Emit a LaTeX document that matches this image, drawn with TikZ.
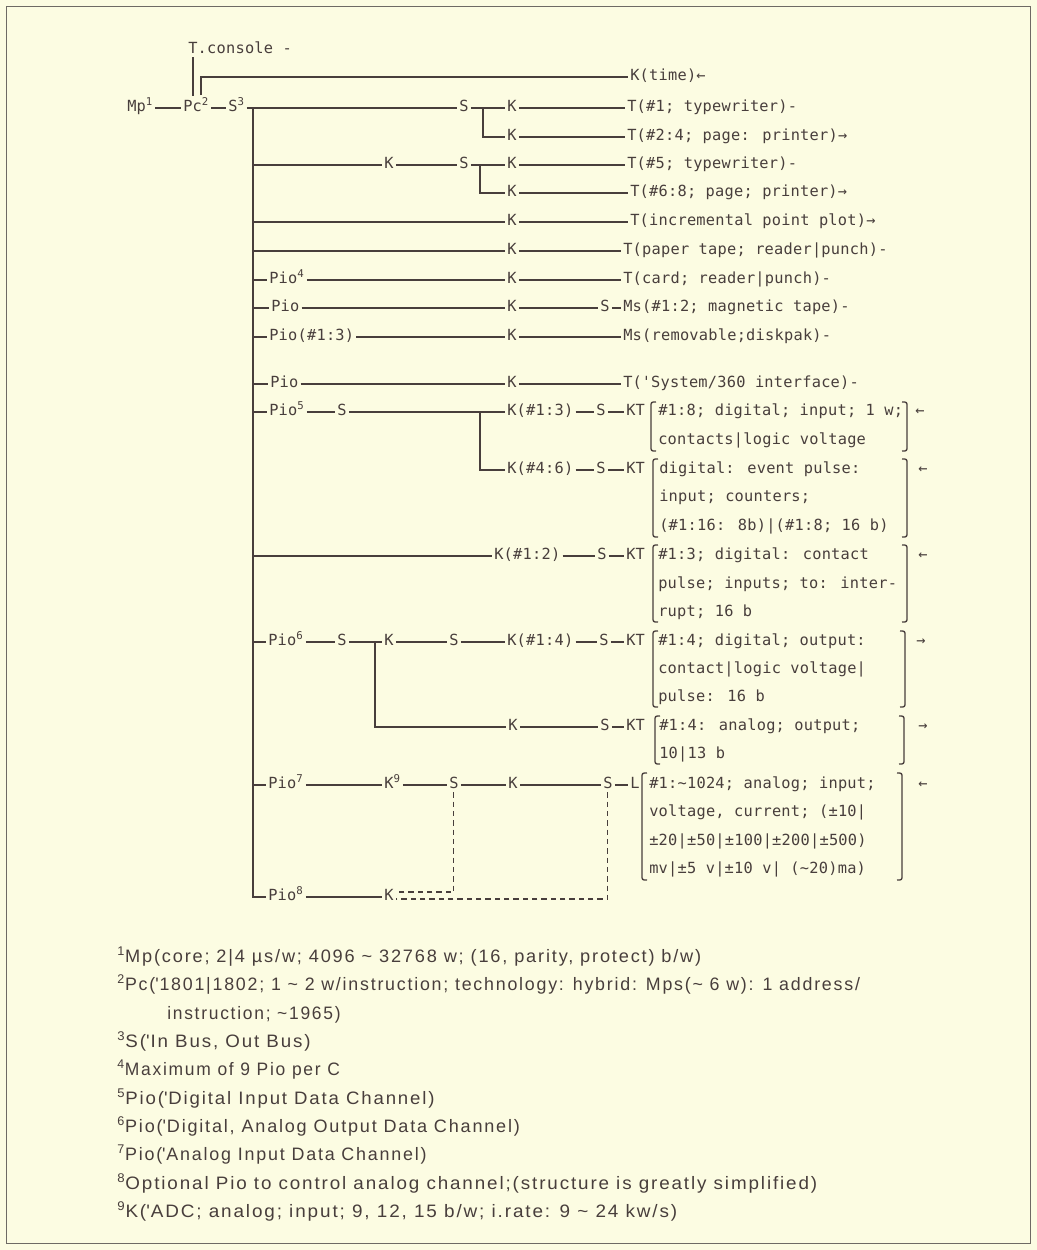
\documentclass[tikz,border=0pt]{standalone}
\usepackage{fontspec}
\usepackage{graphicx}
\usetikzlibrary{calc}
\newfontfamily\mono[LetterSpace=1.5]{DejaVu Sans Mono}
\newfontfamily\fnfont[FakeStretch=0.8,LetterSpace=8]{Liberation Sans}
\definecolor{bg}{RGB}{252,252,226}
\definecolor{ink}{RGB}{72,62,60}
\definecolor{framec}{RGB}{110,106,100}
\tikzset{
 lbl/.style={font=\mono\fontsize{11.5pt}{14pt}\selectfont, text=ink, inner xsep=1.5pt, inner ysep=0pt, text height=8pt, text depth=2.5pt, anchor=west},
 ln/.style={draw=ink, line width=0.9pt},
 dsh/.style={draw=ink, line width=0.9pt, dash pattern=on 4pt off 3pt},
 brk/.style={draw=ink, line width=1pt},
 fn/.style={font=\fnfont\fontsize{13.5pt}{15pt}\selectfont, text=ink, inner sep=0pt, anchor=base west},
}
\newcommand{\brL}[3]{\draw[brk] ({#1+5},#2) .. controls (#1,#2) .. (#1,{#2+5}) -- (#1,{#3-5}) .. controls (#1,#3) .. ({#1+5},#3);}
\newcommand{\brR}[3]{\draw[brk] ({#1-5},#2) .. controls (#1,#2) .. (#1,{#2+5}) -- (#1,{#3-5}) .. controls (#1,#3) .. ({#1-5},#3);}
\begin{document}
\begin{tikzpicture}[x=0.75pt,y=-0.75pt]
\useasboundingbox (0,0) rectangle (1037,1250);
\fill[bg] (0,0) rectangle (1037,1250);
\draw[framec, line width=1pt] (6.5,6.5) rectangle (1030.5,1243.5);

% ---- top ----
\node[lbl] (tcons) at (186,50) {T.console -};
\node[lbl] (mp) at (125,108) {Mp\textsuperscript{1}};
\node[lbl] (pc) at (181,108) {Pc\textsuperscript{2}};
\node[lbl] (s0) at (226,108) {S\textsuperscript{3}};
\node[lbl] (ktime) at (628,77) {K(time)←};
\draw[ln] (mp.east) -- (pc.west);
\draw[ln] (pc.east) -- (s0.west);
\coordinate (pctop) at ($(pc.north)+(0,-5)$);
\coordinate (tc) at (193,57);
\draw[ln] (tc) -- (tc |- pctop);
\coordinate (pcr) at (201,95);
\draw[ln] (pcr) |- (ktime.west);

% ---- rows ----
\node[lbl] (s1) at (457,108) {S};
\node[lbl] (k1) at (505,108) {K};
\node[lbl] (t1) at (625,108) {T(\#1; typewriter)-};
\node[lbl] (k2) at (505,137) {K};
\node[lbl] (t2) at (625,137) {T(\#2:4; page: printer)→};
\node[lbl] (k3) at (382,165) {K};
\node[lbl] (s3) at (457,165) {S};
\node[lbl] (k3b) at (505,165) {K};
\node[lbl] (t3) at (625,165) {T(\#5; typewriter)-};
\node[lbl] (k4) at (505,193) {K};
\node[lbl] (t4) at (628,193) {T(\#6:8; page; printer)→};
\node[lbl] (k5) at (505,222) {K};
\node[lbl] (t5) at (628,222) {T(incremental point plot)→};
\node[lbl] (k6) at (505,251) {K};
\node[lbl] (t6) at (621,251) {T(paper tape; reader|punch)-};
\node[lbl] (p7) at (267,280) {Pio\textsuperscript{4}};
\node[lbl] (k7) at (505,280) {K};
\node[lbl] (t7) at (621,280) {T(card; reader|punch)-};
\node[lbl] (p8) at (269,308) {Pio};
\node[lbl] (k8) at (505,308) {K};
\node[lbl] (s8) at (598,308) {S};
\node[lbl] (m8) at (621,308) {Ms(\#1:2; magnetic tape)-};
\node[lbl] (p9) at (267,337) {Pio(\#1:3)};
\node[lbl] (k9) at (505,337) {K};
\node[lbl] (m9) at (621,337) {Ms(removable;diskpak)-};
\node[lbl] (p10) at (268,384) {Pio};
\node[lbl] (k10) at (505,384) {K};
\node[lbl] (t10) at (621,384) {T(\textquotesingle System/360 interface)-};
\node[lbl] (p11) at (267,412) {Pio\textsuperscript{5}};
\node[lbl] (s11) at (335,412) {S};
\node[lbl] (k11) at (505,412) {K(\#1:3)};
\node[lbl] (s11b) at (594,412) {S};
\node[lbl] (kt11) at (624,412) {KT};
\node[lbl] (k12) at (505,470) {K(\#4:6)};
\node[lbl] (s12) at (594,470) {S};
\node[lbl] (kt12) at (624,470) {KT};
\node[lbl] (k13) at (492,556) {K(\#1:2)};
\node[lbl] (s13) at (595,556) {S};
\node[lbl] (kt13) at (624,556) {KT};
\node[lbl] (p14) at (266,642) {Pio\textsuperscript{6}};
\node[lbl] (s14) at (335,642) {S};
\node[lbl] (k14) at (382,642) {K};
\node[lbl] (s14b) at (447,642) {S};
\node[lbl] (k14b) at (505,642) {K(\#1:4)};
\node[lbl] (s14c) at (597,642) {S};
\node[lbl] (kt14) at (624,642) {KT};
\node[lbl] (k15) at (506,727) {K};
\node[lbl] (s15) at (598,727) {S};
\node[lbl] (kt15) at (624,727) {KT};
\node[lbl] (p16) at (266,785) {Pio\textsuperscript{7}};
\node[lbl] (k16) at (382,785) {K\textsuperscript{9}};
\node[lbl] (s16) at (447,785) {S};
\node[lbl] (k16b) at (506,785) {K};
\node[lbl] (s16b) at (601,785) {S};
\node[lbl] (l16) at (628,785) {L};
\node[lbl] (p17) at (266,897) {Pio\textsuperscript{8}};
\node[lbl] (k17) at (382,897) {K};

% ---- horizontal connectors ----
\foreach \a/\b in {s0/s1, s1/k1, k1/t1, k2/t2, k3/s3, s3/k3b, k3b/t3, k4/t4, k5/t5, k6/t6,
  p7/k7, k7/t7, p8/k8, k8/s8, s8/m8, p9/k9, k9/m9, p10/k10, k10/t10,
  p11/s11, s11/k11, k11/s11b, s11b/kt11, k12/s12, s12/kt12, k13/s13, s13/kt13,
  p14/s14, s14/k14, k14/s14b, s14b/k14b, k14b/s14c, s14c/kt14, k15/s15, s15/kt15,
  p16/k16, k16/s16, s16/k16b, k16b/s16b, s16b/l16, p17/k17}
  {\draw[ln] (\a.east) -- (\b.west);}

% ---- bus and branches ----
\coordinate (bus) at (253,108);
\draw[ln] (bus) |- (p17.west);
\foreach \n in {k3, k5, k6, p7, p8, p9, p10, p11, k13, p14, p16}
  {\draw[ln] (bus |- \n.west) -- (\n.west);}
\coordinate (j1) at (483,108);
\draw[ln] (j1) |- (k2.west);
\coordinate (j2) at (480,165);
\draw[ln] (j2) |- (k4.west);
\coordinate (j3) at (480,412);
\draw[ln] (j3) |- (k12.west);
\coordinate (j4) at (375,642);
\draw[ln] (j4) |- (k15.west);

% ---- dashed optional control ----
\coordinate (k17u) at ($(k17.east)+(0,-5)$);
\coordinate (k17d) at ($(k17.east)+(0,2)$);
\draw[dsh] (s16.south) |- (k17u);
\draw[dsh] (s16b.south) |- (k17d);

% ---- bracket blocks ----
\node[lbl] (b1a) at (656,412) {\#1:8; digital; input; 1 w;};
\node[lbl] (b1b) at (656,441) {contacts|logic voltage};
\brL{651}{402}{451} \brR{907}{402}{451}
\node[lbl] (a1) at (913,412) {←};

\node[lbl] (b2a) at (657,470) {digital: event pulse:};
\node[lbl] (b2b) at (657,498) {input; counters;};
\node[lbl] (b2c) at (657,527) {(\#1:16: 8b)|(\#1:8; 16 b)};
\brL{653}{459}{537} \brR{907}{459}{537}
\node[lbl] (a2) at (916,470) {←};

\node[lbl] (b3a) at (656,556) {\#1:3; digital: contact};
\node[lbl] (b3b) at (656,585) {pulse; inputs; to: inter-};
\node[lbl] (b3c) at (656,613) {rupt; 16 b};
\brL{653}{545}{622} \brR{907}{545}{622}
\node[lbl] (a3) at (916,556) {←};

\node[lbl] (b4a) at (656,642) {\#1:4; digital; output:};
\node[lbl] (b4b) at (656,670) {contact|logic voltage|};
\node[lbl] (b4c) at (656,698) {pulse: 16 b};
\brL{653}{631}{707} \brR{905}{631}{707}
\node[lbl] (a4) at (914,642) {→};

\node[lbl] (b5a) at (657,727) {\#1:4: analog; output;};
\node[lbl] (b5b) at (657,755) {10|13 b};
\brL{655}{716}{764} \brR{904}{716}{764}
\node[lbl] (a5) at (916,727) {→};

\node[lbl] (b6a) at (647,785) {\#1:\textasciitilde1024; analog; input;};
\node[lbl] (b6b) at (647,813) {voltage, current; (±10|};
\node[lbl] (b6c) at (647,842) {±20|±50|±100|±200|±500)};
\node[lbl] (b6d) at (647,870) {mv|±5 v|±10 v| (\textasciitilde20)ma)};
\brL{642}{773}{880} \brR{902}{773}{880}
\node[lbl] (a6) at (916,785) {←};

% ---- footnotes ----
\node[fn] (f1) at (117,962) {\resizebox{438pt}{\height}{\textsuperscript{1}Mp(core; 2|4 µs/w; 4096 \textasciitilde{} 32768 w; (16, parity, protect) b/w)}};
\node[fn] (f2) at (117,990) {\resizebox{557pt}{\height}{\textsuperscript{2}Pc(\textquotesingle 1801|1802; 1 \textasciitilde{} 2 w/instruction; technology: hybrid: Mps(\textasciitilde{} 6 w): 1 address/}};
\node[fn] (f3) at (167,1019) {\resizebox{130pt}{\height}{instruction; \textasciitilde 1965)}};
\node[fn] (f4) at (117,1047) {\resizebox{145pt}{\height}{\textsuperscript{3}S(\textquotesingle In Bus, Out Bus)}};
\node[fn] (f5) at (117,1075) {\resizebox{167pt}{\height}{\textsuperscript{4}Maximum of 9 Pio per C}};
\node[fn] (f6) at (117,1104) {\resizebox{238pt}{\height}{\textsuperscript{5}Pio(\textquotesingle Digital Input Data Channel)}};
\node[fn] (f7) at (117,1132) {\resizebox{302pt}{\height}{\textsuperscript{6}Pio(\textquotesingle Digital, Analog Output Data Channel)}};
\node[fn] (f8) at (117,1160) {\resizebox{232pt}{\height}{\textsuperscript{7}Pio(\textquotesingle Analog Input Data Channel)}};
\node[fn] (f9) at (117,1189) {\resizebox{525pt}{\height}{\textsuperscript{8}Optional Pio to control analog channel;(structure is greatly simplified)}};
\node[fn] (f10) at (117,1217) {\resizebox{420pt}{\height}{\textsuperscript{9}K(\textquotesingle ADC; analog; input; 9, 12, 15 b/w; i.rate: 9 \textasciitilde{} 24 kw/s)}};
\end{tikzpicture}
\end{document}
